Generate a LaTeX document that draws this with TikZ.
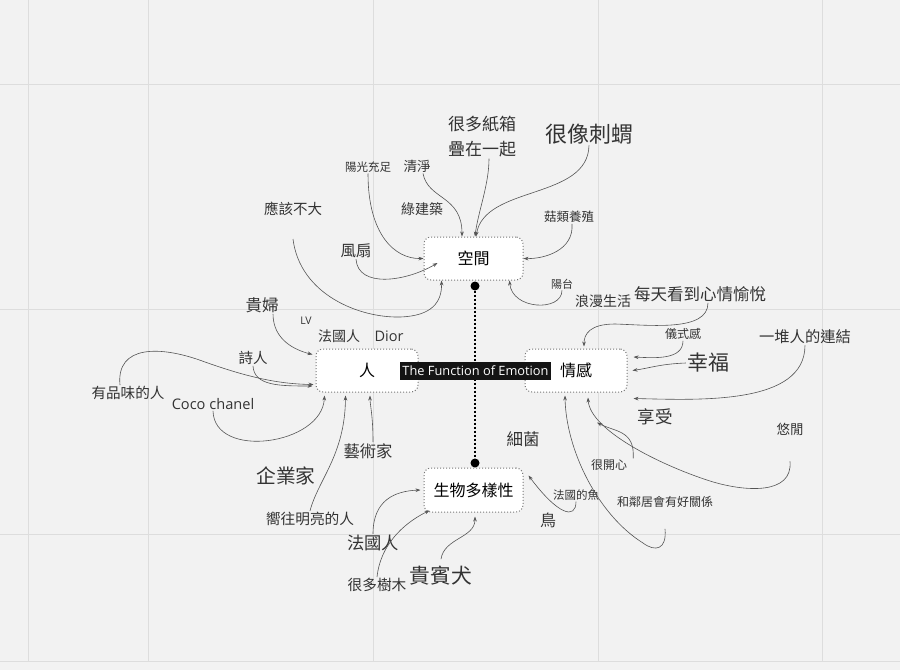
\documentclass[tikz,border=0pt]{standalone}
\usepackage{fontspec}
\setmainfont{Noto Sans CJK TC}
\newfontfamily\latinf{Open Sans}
\usetikzlibrary{arrows.meta}
\definecolor{bg}{HTML}{F2F2F2}
\definecolor{gridc}{HTML}{DDDDDD}
\definecolor{txt}{HTML}{333333}
\definecolor{linec}{HTML}{555555}
\definecolor{boxc}{HTML}{777777}
\tikzset{
  tx/.style={font=\fontsize{#1}{#1}\selectfont, text=txt, inner sep=1pt},
  lx/.style={font=\latinf\fontsize{#1}{#1}\selectfont, text=txt, inner sep=1pt},
  boxst/.style={draw=boxc, dotted, line width=1pt, fill=white, rounded corners=7pt,
     minimum width=100pt, minimum height=43pt, inner sep=0pt, text=black,
     font=\fontsize{16}{16}\selectfont},
  con/.style={draw=linec, line width=0.6pt, -{Stealth[length=5pt,width=3.6pt]}},
  dotn/.style={circle, fill=black, inner sep=0pt, minimum size=9pt}
}
\begin{document}
\begin{tikzpicture}[x=1pt,y=-1pt]
\fill[bg] (0,0) rectangle (900,670);
\useasboundingbox (0,0) rectangle (900,670);
% grid
\foreach \gx in {28,148,373,598,822} \draw[gridc, line width=1pt] (\gx,0) -- (\gx,661);
\foreach \gy in {84,309,534,661} \draw[gridc, line width=1pt] (0,\gy) -- (900,\gy);

% boxes
\node[boxst, minimum width=99pt] (kj) at (473.5,258.5) {空間};
\node[boxst, minimum width=102pt] (ren) at (367,370.5) {人};
\node[boxst, minimum width=102pt] (qg) at (576,370.5) {情感};
\node[boxst, minimum width=99pt, minimum height=44pt] (sw) at (473.5,490) {生物多樣性};

% center spine
\node[dotn] (d1) at (475,286) {};
\node[dotn] (d2) at (475,463) {};
\draw[black, line width=2pt, dotted] (d1) -- (d2);
\node[fill=black!92, text=white, inner sep=0pt, minimum height=18pt, minimum width=151pt,
      font=\latinf\fontsize{12.8}{12.8}\selectfont] (lab) at (475.5,371) {The Function of Emotion};

% texts
\node[tx=17, align=center, font=\fontsize{17}{25}\selectfont] (n1) at (482,137) {很多紙箱\\疊在一起};
\node[tx=22] (n2) at (589,134) {很像刺蝟};
\node[tx=11.5] (n3) at (368,167) {陽光充足};
\node[tx=13.5] (n4) at (417,166) {清淨};
\node[tx=14] (n5) at (422,209) {綠建築};
\node[tx=14.5] (n6) at (293,209) {應該不大};
\node[tx=12.5] (n7) at (569,217) {菇類養殖};
\node[tx=15.5] (n8) at (356,251) {風扇};
\node[tx=11] (n9) at (562,284) {陽台};
\node[tx=14] (n10) at (603,301) {浪漫生活};
\node[tx=16.5] (n11) at (700,294) {每天看到心情愉悅};
\node[tx=16.5] (n12) at (262,305) {貴婦};
\node[lx=10.5] (n13) at (306,321) {LV};
\node[tx=14] (n14) at (339,336) {法國人};
\node[lx=14.5] (n15) at (389,336) {Dior};
\node[tx=12] (n16) at (683,334) {儀式感};
\node[tx=15.3] (n17) at (805,337) {一堆人的連結};
\node[tx=14.5] (n18) at (253,358) {詩人};
\node[tx=21] (n19) at (708,363) {幸福};
\node[tx=14.6] (n20) at (128,393) {有品味的人};
\node[lx=14.6] (n21) at (213,404) {Coco chanel};
\node[tx=17.5] (n22) at (655,417) {享受};
\node[tx=13.5] (n23) at (790,429) {悠閒};
\node[tx=16.5] (n24) at (523,439) {細菌};
\node[tx=16.3] (n25) at (368,451) {藝術家};
\node[tx=19.7] (n26) at (286,476) {企業家};
\node[tx=12] (n27) at (609,465) {很開心};
\node[tx=11.5] (n28) at (576,495) {法國的魚};
\node[tx=12] (n29) at (665,502) {和鄰居會有好關係};
\node[tx=16] (n30) at (548,520) {鳥};
\node[tx=14.7] (n31) at (310,519) {嚮往明亮的人};
\node[tx=17.3] (n32) at (373,543) {法國人};
\node[tx=20.7] (n33) at (441,576) {貴賓犬};
\node[tx=14.7] (n34) at (377,585) {很多樹木};

% connectors to 空間
\draw[con] (n3.south) .. controls (368,235) and (395,259) .. (kj.west);
\draw[con] ([xshift=6pt]n4.south) .. controls (428,200) and (462,195) .. ([xshift=-11.5pt]kj.north);
\draw[con] ([xshift=7pt]n1.south) .. controls (489,185) and (478,212) .. ([xshift=1.5pt]kj.north);
\draw[con] (n2.south) .. controls (588,200) and (485,185) .. ([xshift=2.5pt]kj.north);
\draw[con] ([xshift=3pt]n7.south) .. controls (574,250) and (545,259) .. (kj.east);
\draw[con] (n8.south) .. controls (358,288) and (405,282) .. ([xshift=14pt,yshift=-4.5pt]kj.west);
\draw[con] ([yshift=-22pt]n6.south) .. controls (300,295) and (360,318) .. (400,317)
   .. controls (432,316) and (442,302) .. ([xshift=18pt]kj.south west);
\draw[con] (n9.south) .. controls (562,312) and (512,310) .. ([xshift=-14pt]kj.south east);

% connectors to 人
\draw[con] ([xshift=11pt]n12.south) .. controls (273,340) and (295,350) .. ([xshift=-3pt,yshift=-6pt]ren.north west);
\draw[con] (n18.south) .. controls (254,386) and (280,386) .. ([xshift=-3pt,yshift=-15.5pt]ren.west);
\draw[con] ([xshift=-8pt]n20.north) .. controls (116,345) and (160,345) .. (205,362)
   .. controls (250,378) and (280,384) .. ([xshift=-2pt,yshift=-14pt]ren.west);
\draw[con] (n21.south) .. controls (214,460) and (322,445) .. ([xshift=9pt,yshift=-3pt]ren.south west);
\draw[con] (n31.north) .. controls (318,480) and (345,455) .. ([xshift=30pt,yshift=-3pt]ren.south west);
\draw[con] ([xshift=5pt]n25.north) .. controls (373,415) and (370,405) .. ([xshift=3pt,yshift=-3pt]ren.south);

% connectors to 情感
\draw[con] ([xshift=8pt]n11.south) .. controls (708,332) and (650,325) .. (615,324)
   .. controls (590,324) and (584,334) .. ([xshift=8pt,yshift=2pt]qg.north);
\draw[con] (n16.south) .. controls (683,360) and (655,358) .. ([xshift=6pt,yshift=13.5pt]qg.east);
\draw[con] (n19.west) .. controls (660,364) and (650,368) .. ([xshift=5pt]qg.east);
\draw[con] (n17.south) .. controls (805,405) and (700,400) .. ([xshift=6pt,yshift=-6pt]qg.south east);
\draw[con] ([yshift=-25pt]n23.south) .. controls (793,495) and (745,492) .. (710,481)
   .. controls (660,465) and (590,430) .. ([xshift=12pt,yshift=-5pt]qg.south);
\draw[con] ([xshift=5pt]n27.north east) .. controls (635,430) and (615,432) .. ([xshift=21pt,yshift=-30pt]qg.south);
\draw[con] ([yshift=-20pt]n29.south) .. controls (667,550) and (655,552) .. (643,543)
   .. controls (598,515) and (566,450) .. ([xshift=-11pt,yshift=-3pt]qg.south);

% connectors to 生物多樣性
\draw[con] (n28.south) .. controls (576,520) and (558,515) .. ([xshift=5pt,yshift=-8pt]sw.north east);
\draw[con] (n32.north) .. controls (373,500) and (395,491) .. ([xshift=-3pt]sw.west);
\draw[con] (n34.north) .. controls (381,540) and (410,520) .. ([xshift=6pt,yshift=2pt]sw.south west);
\draw[con] ([yshift=6pt]n33.north) .. controls (444,538) and (475,538) .. ([xshift=1.5pt,yshift=-4pt]sw.south);
\end{tikzpicture}
\end{document}
